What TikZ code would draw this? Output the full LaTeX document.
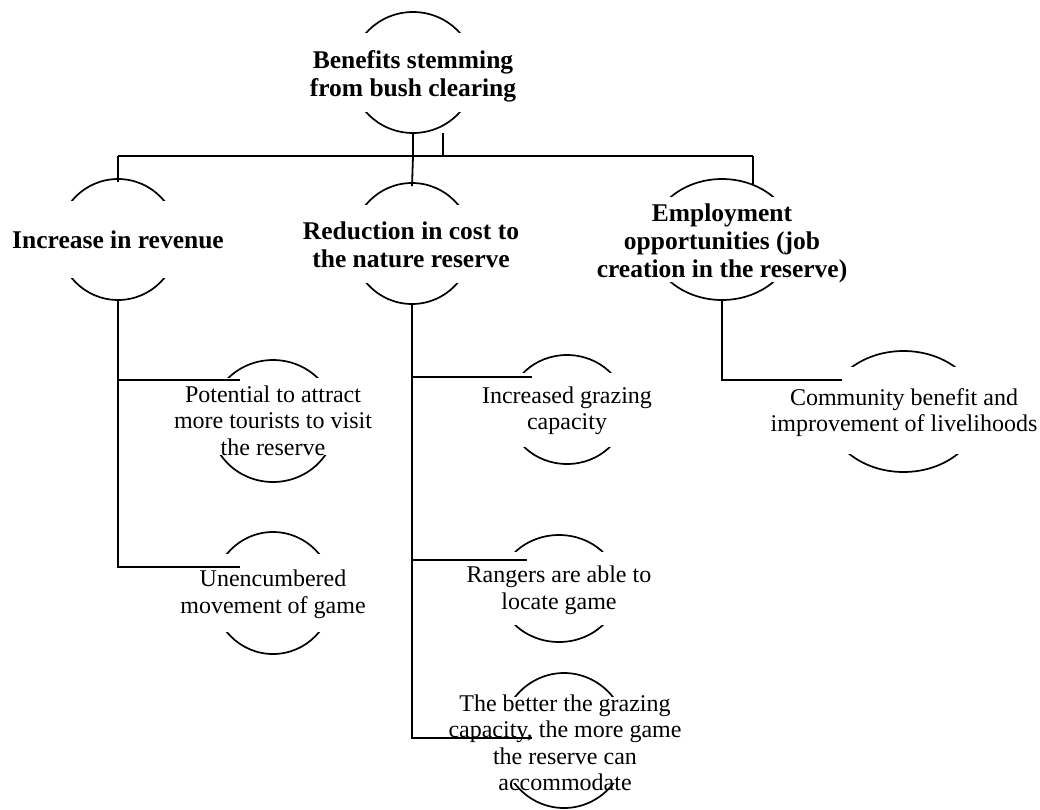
\documentclass[tikz,border=0pt]{standalone}
\usepackage{fontspec}
\setmainfont{Liberation Serif}
\usetikzlibrary{shapes.geometric}
\begin{document}
\begin{tikzpicture}[x=1pt,y=-1pt,line width=1.8pt,
  ell/.style={draw, ellipse, inner sep=0pt, line width=1.7pt},
  hd/.style={font=\fontsize{25.5}{28}\selectfont\bfseries, align=center, inner sep=0pt},
  bd/.style={font=\fontsize{24}{26.5}\selectfont, align=center, inner sep=0pt},
  mask/.style={fill=white}]
\useasboundingbox (0,0) rectangle (1040,809);

% ---- bubbles (ellipse, white mask, text) ----
\node[ell, minimum width=124pt, minimum height=121pt] (root) at (413,72.5) {};
\fill[mask] (348,33) rectangle (478,112);
\node[hd] (rootT) at (413,76.5) {Benefits stemming\\from bush clearing};

\node[ell, minimum width=120pt, minimum height=121pt] (inc) at (118,239.5) {};
\fill[mask] (55,201) rectangle (181,278);
\node[hd] (incT) at (118,239.5) {Increase in revenue};

\node[ell, minimum width=120pt, minimum height=121pt] (red) at (412,243.5) {};
\fill[mask] (349,205) rectangle (475,283);
\node[hd] (redT) at (411,244.5) {Reduction in cost to\\the nature reserve};

\node[ell, minimum width=144pt, minimum height=121pt] (emp) at (722,239.5) {};
\fill[mask] (647,197) rectangle (797,282);
\node[hd] (empT) at (722,243) {Employment\\opportunities (job\\creation in the reserve)};

\node[ell, minimum width=126pt, minimum height=122pt] (pot) at (273,421) {};
\fill[mask] (207,378) rectangle (339,455);
\node[bd] (potT) at (273,420.5) {Potential to attract\\more tourists to visit\\the reserve};

\node[ell, minimum width=120pt, minimum height=122pt] (unc) at (273,593) {};
\fill[mask] (210,554) rectangle (336,632);
\node[bd] (uncT) at (273,594.5) {Unencumbered\\movement of game};

\node[ell, minimum width=118pt, minimum height=109pt] (gra) at (567,409.5) {};
\fill[mask] (505,373) rectangle (629,447);
\node[bd] (graT) at (567,411) {Increased grazing\\capacity};

\node[ell, minimum width=120pt, minimum height=107pt] (ran) at (559,588.5) {};
\fill[mask] (496,552) rectangle (622,625);
\node[bd] (ranT) at (559,590.5) {Rangers are able to\\locate game};

\node[ell, minimum width=128pt, minimum height=135pt] (bet) at (564,740.5) {};
\fill[mask] (497,697) rectangle (631,783);
\node[bd] (betT) at (565,743) {The better the grazing\\capacity, the more game\\the reserve can\\accommodate};

\node[ell, minimum width=152pt, minimum height=121pt] (com) at (903.5,411.5) {};
\fill[mask] (824,367) rectangle (983,454);
\node[bd] (comT) at (904,412.5) {Community benefit and\\improvement of livelihoods};

% ---- connector points ----
\coordinate (bL) at (118,156);
\coordinate (bM) at (413,156);
\coordinate (bM2) at (443,156);
\coordinate (bR) at (753,156);
\coordinate (x2) at (443,133);
\coordinate (ePot) at (240,380);
\coordinate (eUnc) at (240,567);
\coordinate (eGra) at (532,377);
\coordinate (eRan) at (527,560);
\coordinate (eBet) at (532,738);
\coordinate (eCom) at (842,380);

% ---- connectors ----
\draw (root.south) -- (bM);
\draw (x2) -- (bM2);
\draw (bL) -- (bR);
\draw (bL) -- ([yshift=-4pt]inc.north);
\draw (bM) -- ([yshift=-4pt]red.north);
\draw (bR) -- (bR |- emp.60);

\draw (inc.south) |- (ePot);
\draw (inc.south) |- (eUnc);
\draw (red.south) |- (eGra);
\draw (red.south) |- (eRan);
\draw (red.south) |- (eBet);
\draw (emp.south) |- (eCom);
\end{tikzpicture}
\end{document}
